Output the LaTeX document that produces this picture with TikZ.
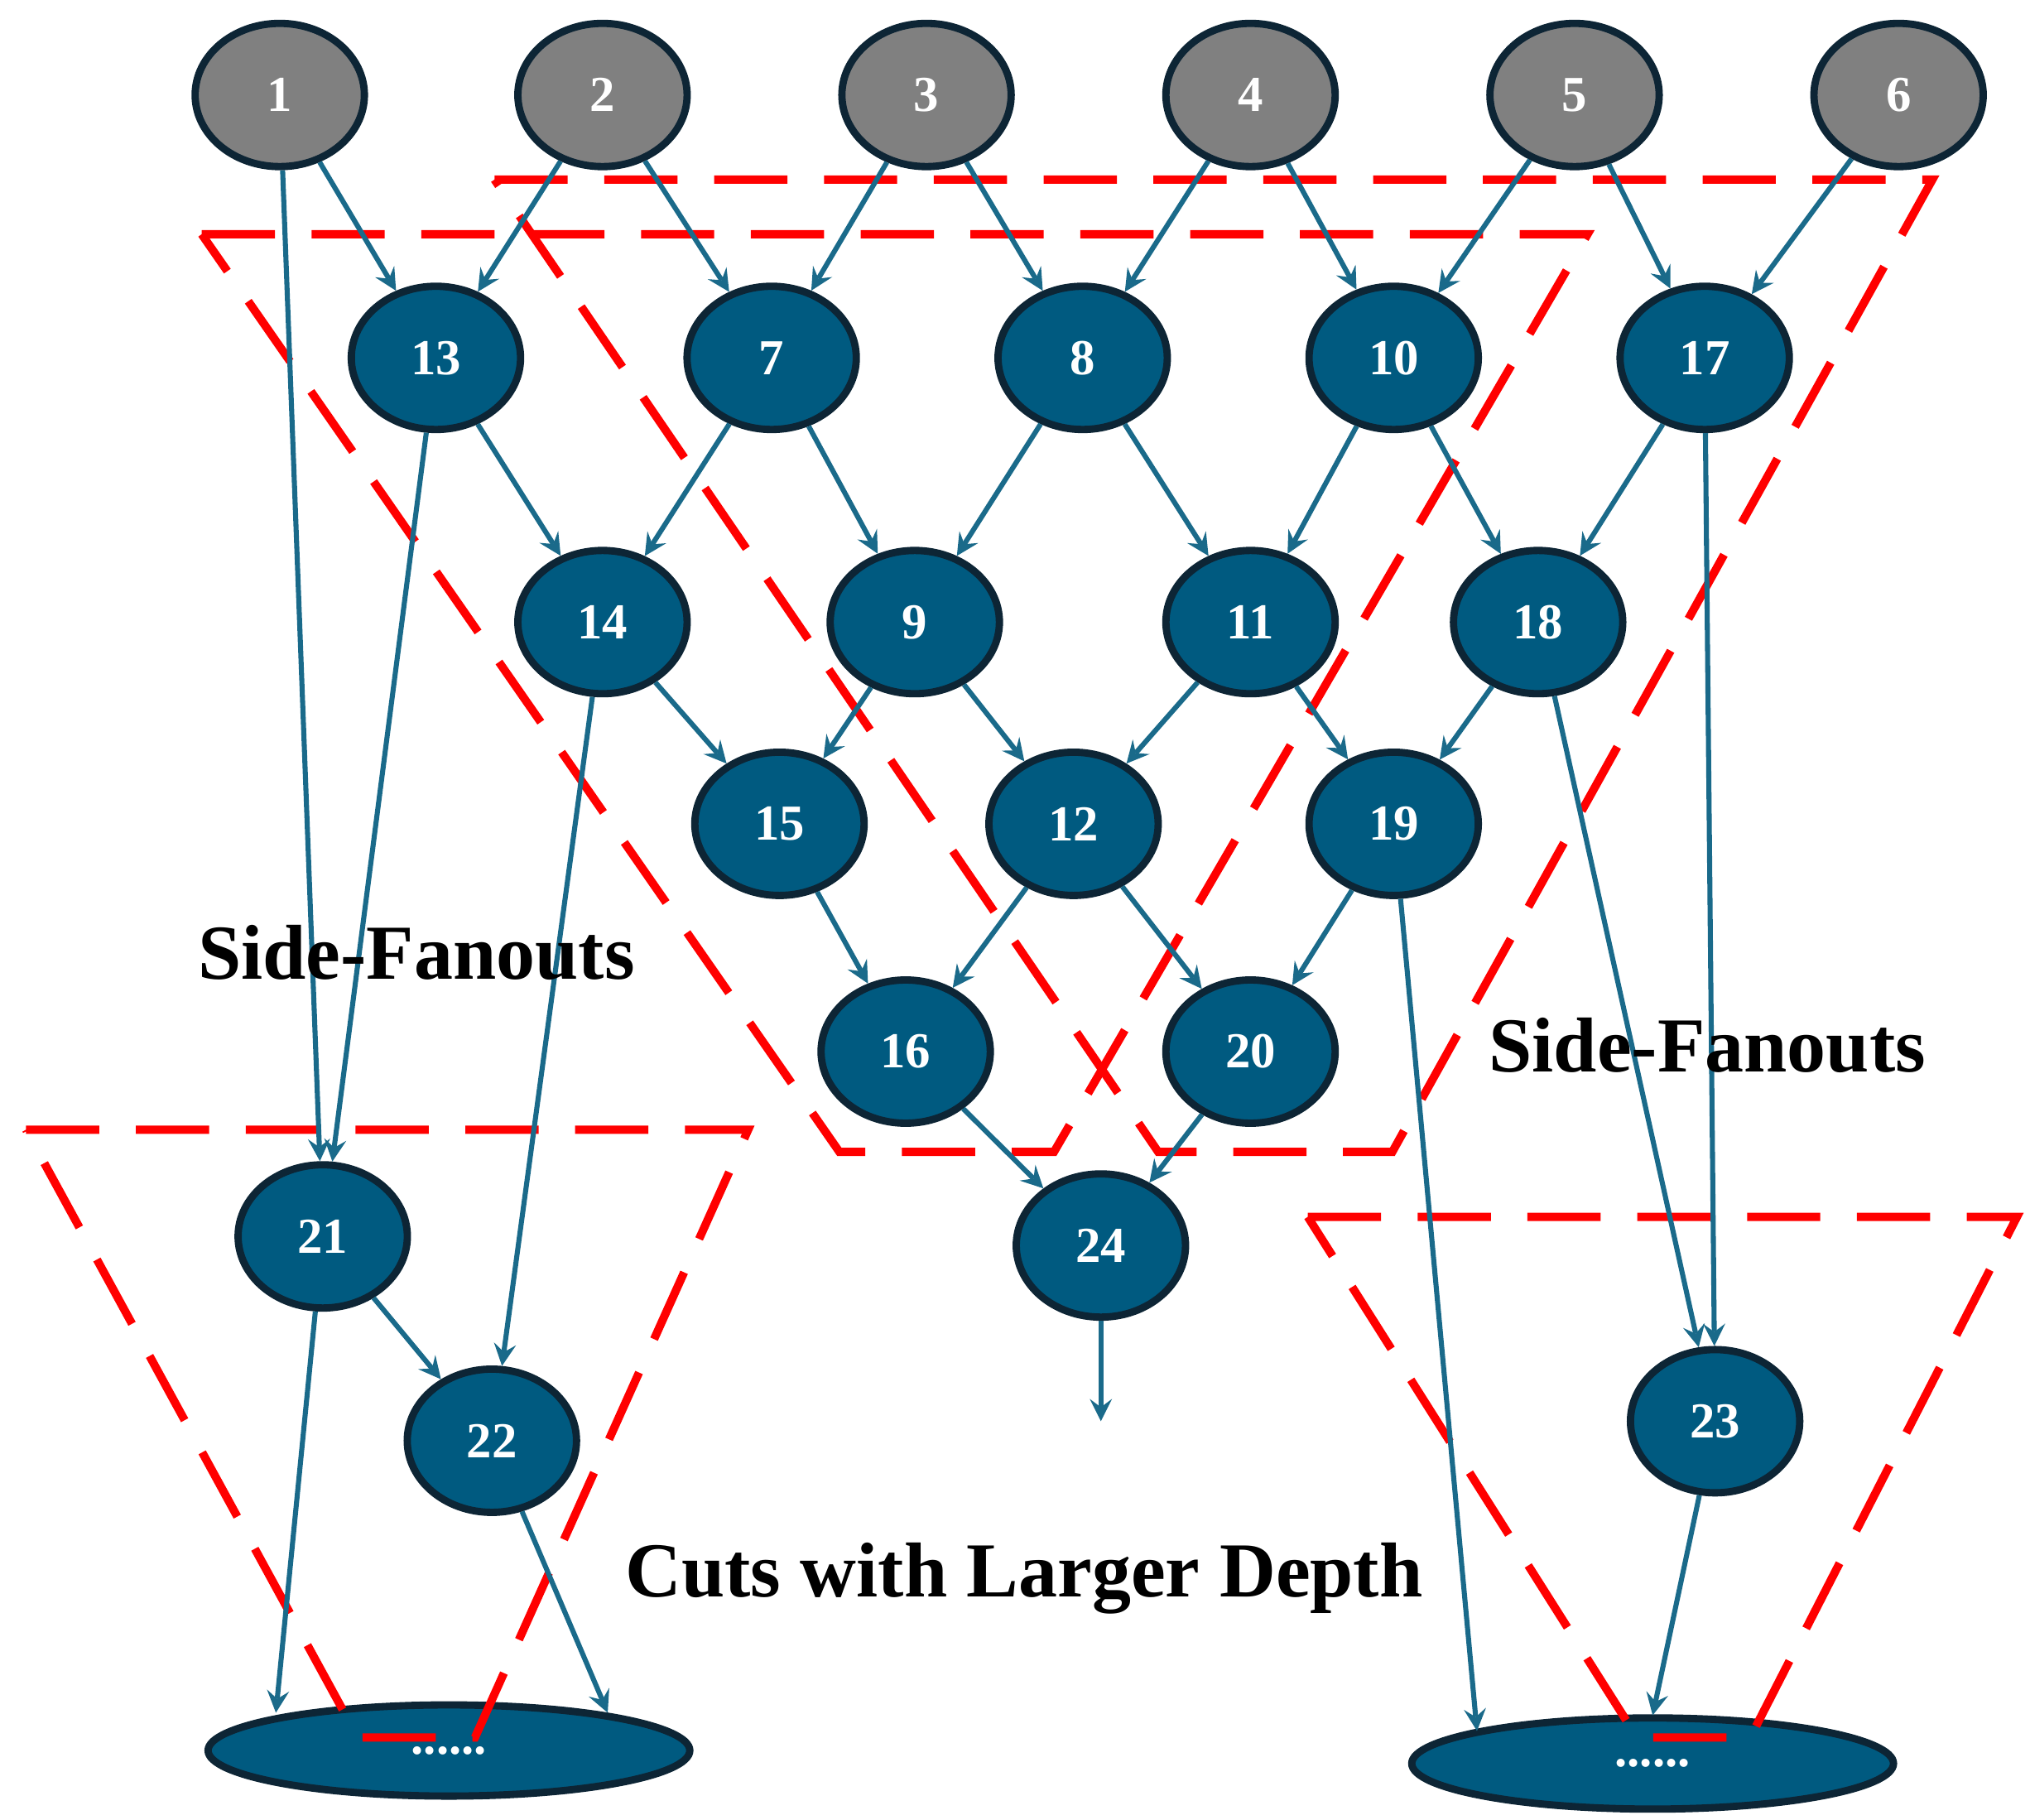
\documentclass[tikz,border=0pt]{standalone}
\usepackage{fontspec}
\setmainfont{Liberation Serif}
\usetikzlibrary{shapes.geometric, arrows, positioning}
\definecolor{nodeblue}{HTML}{005A80}
\definecolor{edgeblue}{HTML}{1A6A8A}
\definecolor{rimdark}{HTML}{0D2535}
\begin{document}
\begin{tikzpicture}[x=0.01cm, y=-0.01cm,
  nd/.style={ellipse, draw=rimdark, line width=1.6pt, fill=nodeblue, minimum width=1.3cm, minimum height=1.1cm, inner sep=0pt, text=white, font=\bfseries\fontsize{11}{12}\selectfont},
  inp/.style={nd, fill=gray},
  big/.style={nd, minimum width=3.7cm, minimum height=0.7cm},
  arrow/.style={->, >=stealth, draw=edgeblue, line width=1.1pt},
  cut/.style={draw=red, dashed, dash pattern=on 16pt off 8pt, line width=1.8pt},
  lbl/.style={font=\bfseries\fontsize{17}{19}\selectfont}]
\useasboundingbox (0,0) rectangle (1560,1398);
% inputs
\node[inp] (n1) at (215,73) {1};
\node[inp] (n2) at (463,73) {2};
\node[inp] (n3) at (712,73) {3};
\node[inp] (n4) at (961,73) {4};
\node[inp] (n5) at (1210,73) {5};
\node[inp] (n6) at (1459,73) {6};
% inner nodes
\node[nd] (n13) at (335,275) {13};
\node[nd] (n7) at (593,275) {7};
\node[nd] (n8) at (832,275) {8};
\node[nd] (n10) at (1071,275) {10};
\node[nd] (n17) at (1310,275) {17};
\node[nd] (n14) at (463,478) {14};
\node[nd] (n9) at (703,478) {9};
\node[nd] (n11) at (961,478) {11};
\node[nd] (n18) at (1182,478) {18};
\node[nd] (n15) at (599,633) {15};
\node[nd] (n12) at (825,633) {12};
\node[nd] (n19) at (1071,633) {19};
\node[nd] (n16) at (696,808) {16};
\node[nd] (n20) at (961,808) {20};
\node[nd] (n21) at (248,950) {21};
\node[nd] (n24) at (846,957) {24};
\node[nd] (n22) at (378,1107) {22};
\node[nd] (n23) at (1318,1092) {23};
\node[big] (bl) at (345,1345) {......};
\node[big] (br) at (1270,1355) {......};
\coordinate (out) at (846,1092);
\coordinate (bl1) at (212,1316);
\coordinate (bl2) at (467,1316);
\coordinate (br1) at (1135,1330);
\coordinate (br2) at (1270,1318);
% cuts
\draw[cut] (155,180) -- (1220,180) -- (810,885) -- (645,885) -- cycle;
\draw[cut] (380,138) -- (1485,138) -- (1070,885) -- (890,885) -- cycle;
\draw[cut] (20,868) -- (575,868) -- (365,1335) -- (275,1335) -- cycle;
\draw[cut] (1005,935) -- (1550,935) -- (1345,1335) -- (1258,1335) -- cycle;
% edges
\draw[arrow] (n1) -- (n21); \draw[arrow] (n1) -- (n13); \draw[arrow] (n2) -- (n13);
\draw[arrow] (n2) -- (n7); \draw[arrow] (n3) -- (n7); \draw[arrow] (n3) -- (n8);
\draw[arrow] (n4) -- (n8); \draw[arrow] (n4) -- (n10); \draw[arrow] (n5) -- (n10);
\draw[arrow] (n5) -- (n17); \draw[arrow] (n6) -- (n17);
\draw[arrow] (n13) -- (n14); \draw[arrow] (n13) -- (n21); \draw[arrow] (n7) -- (n14);
\draw[arrow] (n7) -- (n9); \draw[arrow] (n8) -- (n9); \draw[arrow] (n8) -- (n11);
\draw[arrow] (n10) -- (n11); \draw[arrow] (n10) -- (n18); \draw[arrow] (n17) -- (n18);
\draw[arrow] (n17) -- (n23); \draw[arrow] (n14) -- (n15); \draw[arrow] (n14) -- (n22);
\draw[arrow] (n9) -- (n15); \draw[arrow] (n9) -- (n12); \draw[arrow] (n11) -- (n12);
\draw[arrow] (n11) -- (n19); \draw[arrow] (n18) -- (n19); \draw[arrow] (n18) -- (n23);
\draw[arrow] (n15) -- (n16); \draw[arrow] (n12) -- (n16); \draw[arrow] (n12) -- (n20);
\draw[arrow] (n19) -- (n20); \draw[arrow] (n19) -- (br1);
\draw[arrow] (n16) -- (n24); \draw[arrow] (n20) -- (n24); \draw[arrow] (n24) -- (out);
\draw[arrow] (n21) -- (n22); \draw[arrow] (n21) -- (bl1); \draw[arrow] (n22) -- (bl2);
\draw[arrow] (n23) -- (br2);
% labels
\node[lbl] (sf1) at (320,732) {Side-Fanouts};
\node[lbl] (sf2) at (1312,803) {Side-Fanouts};
\node[lbl] (deep) at (787,1213) {Cuts with Larger Depth};
\end{tikzpicture}
\end{document}
